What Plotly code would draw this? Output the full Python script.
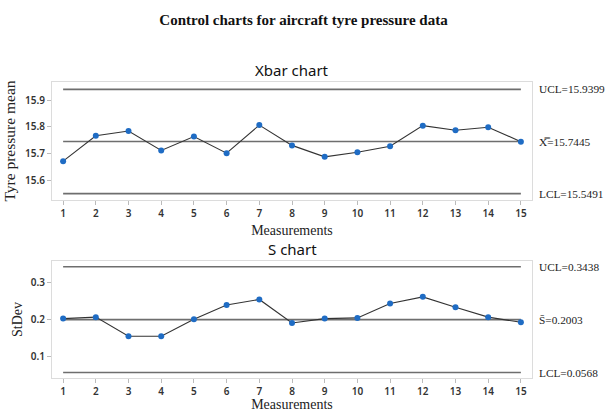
import plotly.graph_objects as go

samples = list(range(1, 16))
xbar_means = [15.671, 15.766, 15.784, 15.711, 15.763, 15.701, 15.806, 15.730,
              15.687, 15.704, 15.727, 15.804, 15.787, 15.798, 15.744]
s_values = [0.203, 0.207, 0.155, 0.155, 0.201, 0.240, 0.255, 0.191,
            0.203, 0.205, 0.244, 0.262, 0.234, 0.207, 0.193]
xbar_limits = {"UCL": 15.9399, "CL": 15.7445, "LCL": 15.5491}
s_limits = {"UCL": 0.3438, "CL": 0.2003, "LCL": 0.0568}
xbar_labels = ["UCL=15.9399", "X\u033F=15.7445", "LCL=15.5491"]
s_labels = ["UCL=0.3438", "S\u0304=0.2003", "LCL=0.0568"]

serif = "Liberation Serif, Times New Roman, serif"
sans = "Noto Sans, Open Sans, sans-serif"
blue = "#1f6cc4"

fig = go.Figure()

def add_chart(vals, limits, xa, ya):
    for key in ["UCL", "CL", "LCL"]:
        fig.add_trace(go.Scatter(x=[1, 15], y=[limits[key]] * 2, mode="lines",
                                 line=dict(color="#6e6e6e", width=1.6),
                                 xaxis=xa, yaxis=ya, hoverinfo="skip", showlegend=False))
    fig.add_trace(go.Scatter(x=samples, y=vals, mode="lines+markers",
                             line=dict(color="#333333", width=1.1),
                             marker=dict(color=blue, size=6),
                             xaxis=xa, yaxis=ya, showlegend=False))

add_chart(xbar_means, xbar_limits, "x", "y")
add_chart(s_values, s_limits, "x2", "y2")

axis_common = dict(showgrid=False, zeroline=False, showline=True, mirror=True,
                   linecolor="#dcdcdc", linewidth=1, ticks="outside", ticklen=4,
                   tickcolor="#bbbbbb", automargin=False,
                   tickfont=dict(family=sans, size=10, color="#333", weight=600))

fig.update_layout(
    width=607, height=412,
    margin=dict(l=52, r=75, t=82, b=34),
    paper_bgcolor="white", plot_bgcolor="white",
    title=dict(text="<b>Control charts for aircraft tyre pressure data</b>",
               x=0.5, xanchor="center", y=0.951, yanchor="middle",
               font=dict(family=serif, size=15, color="#111")),
    xaxis=dict(domain=[0, 1], range=[0.66, 15.34], tickvals=samples, anchor="y",
               title=dict(text="Measurements", font=dict(family=serif, size=14, color="#222"), standoff=6),
               **axis_common),
    yaxis=dict(domain=[0.601, 1], range=[15.525, 15.9675], tickvals=[15.6, 15.7, 15.8, 15.9],
               anchor="x",
               title=dict(text="Tyre pressure mean", font=dict(family=serif, size=15.5, color="#222"), standoff=5),
               **axis_common),
    xaxis2=dict(domain=[0, 1], range=[0.66, 15.34], tickvals=samples, anchor="y2",
                title=dict(text="Measurements", font=dict(family=serif, size=14, color="#222"), standoff=9),
                **axis_common),
    yaxis2=dict(domain=[0, 0.395], range=[0.042, 0.359], tickvals=[0.1, 0.2, 0.3], anchor="x2",
                title=dict(text="StDev", font=dict(family=serif, size=14, color="#222"), standoff=4),
                **axis_common),
)

annotations = []
for lbl, key in zip(xbar_labels, ["UCL", "CL", "LCL"]):
    annotations.append(dict(x=1.011, xref="paper", y=xbar_limits[key], yref="y", text=lbl,
                            showarrow=False, xanchor="left", yanchor="middle",
                            font=dict(family=serif, size=11.3, color="#222")))
for lbl, key in zip(s_labels, ["UCL", "CL", "LCL"]):
    annotations.append(dict(x=1.011, xref="paper", y=s_limits[key], yref="y2", text=lbl,
                            showarrow=False, xanchor="left", yanchor="middle",
                            font=dict(family=serif, size=11.3, color="#222")))
annotations.append(dict(x=0.5, xref="paper", y=1.0, yref="paper", yshift=0, text="Xbar chart",
                        showarrow=False, xanchor="center", yanchor="bottom",
                        font=dict(family=sans, size=15, color="#111")))
annotations.append(dict(x=0.5, xref="paper", y=0.395, yref="paper", yshift=0, text="S chart",
                        showarrow=False, xanchor="center", yanchor="bottom",
                        font=dict(family=sans, size=15, color="#111")))
fig.update_layout(annotations=annotations)

fig.write_html("out.html", config={"displayModeBar": False},
               post_script="document.body.style.margin='0';document.body.style.overflow='hidden';")
